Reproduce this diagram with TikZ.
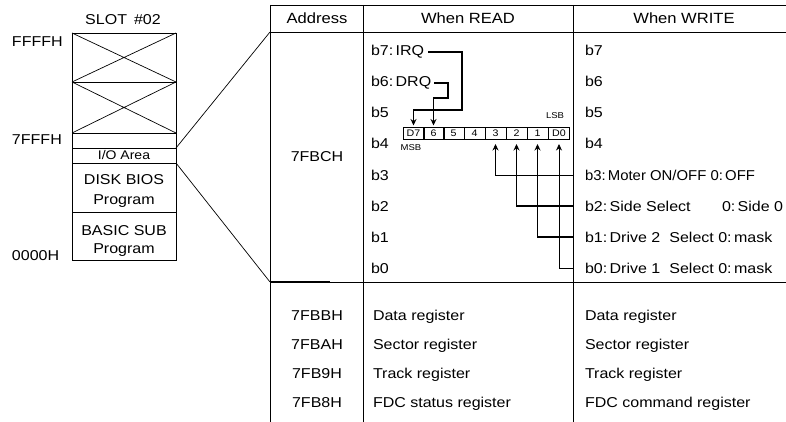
\documentclass[tikz,border=0pt]{standalone}
\usepackage{fontspec}
\usepackage{graphicx}
\setmainfont[FakeStretch=1.12]{Liberation Sans}
\usetikzlibrary{arrows.meta}
\newcommand\fsz[1]{\fontsize{#1}{#1}\selectfont}
\begin{document}
\begin{tikzpicture}[x=1pt,y=-1pt,
  every node/.style={inner sep=0pt,outer sep=0pt},
  txt/.style={anchor=base west,font=\fsz{14.3}},
  ctr/.style={anchor=base,font=\fsz{14.3}},
  hdr/.style={anchor=base,font=\fsz{14.8}},
  rule/.style={line width=0.9pt},
  thinl/.style={line width=0.7pt},
  midl/.style={line width=1.1pt},
  bus/.style={line width=1.8pt},
  cell/.style={draw,line width=0.6pt,minimum width=21pt,minimum height=12pt,font=\fsz{9.5}},
  small/.style={anchor=base,font=\fsz{8.5}},
  tip/.style={-{Stealth[length=6.5pt,width=6pt]}},
]
\useasboundingbox (0,0) rectangle (786,422);

% ---------- memory map ----------
\node[ctr] (slot) at (123,25) {SLOT\hspace{7pt}\#02};
\node[txt] (ffff) at (12,47) {FFFFH};
\node[txt] (sfff) at (12,145) {7FFFH};
\node[txt] (zero) at (12,260) {0000H};
\draw[thinl] (72,33) rectangle (176,260);
\draw[thinl] (72,82) -- (176,82);
\draw[thinl] (72,133) -- (176,133);
\draw[thinl] (72,212) -- (176,212);
\draw[thinl] (72,33) -- (176,82) (72,82) -- (176,33);
\draw[thinl] (72,82) -- (176,133) (72,133) -- (176,82);
\node[draw,thinl,minimum width=104pt,minimum height=15pt,font=\fsz{12.5}] (io) at (124,155.5) {I/O Area};
\node[ctr] (bios1) at (124,185) {DISK BIOS};
\node[ctr] (bios2) at (124,204) {Program};
\node[ctr] (sub1) at (124,235) {BASIC SUB};
\node[ctr] (sub2) at (124,253) {Program};

% ---------- table frame ----------
\coordinate (hBL) at (270,32);
\coordinate (bBL) at (270,282);
\draw[rule] (270,5) -- (786,5);
\draw[rule] (hBL) -- (786,32);
\draw[rule] (bBL) -- (786,282);
\draw[line width=1.6pt] (bBL) -- (330,282);
\draw[rule] (270,5) -- (270,422);
\draw[rule] (363,5) -- (363,422);
\draw[rule] (573,5) -- (573,422);

\draw[thinl] (io.north east) -- (hBL);
\draw[thinl] (io.south east) -- (bBL);

% headers
\node[hdr] (hA) at (317,24) {Address};
\node[hdr] (hR) at (468,24) {When READ};
\node[hdr] (hW) at (684,24) {When WRITE};

% address
\node[ctr] (aC) at (317,162) {7FBCH};

% READ column
\node[txt] (r7) at (371,56) {b7:\,IRQ};
\node[txt] (r6) at (371,87) {b6:\,DRQ};
\node[txt] (r5) at (371,118) {b5};
\node[txt] (r4) at (371,149) {b4};
\node[txt] (r3) at (371,180) {b3};
\node[txt] (r2) at (371,211) {b2};
\node[txt] (r1) at (371,242) {b1};
\node[txt] (r0) at (371,273) {b0};

% register cells
\foreach \n/\x/\t in {7/413.5/D7,6/433.5/6,5/453.5/5,4/474.5/4,3/495.5/3,2/516.5/2,1/537.5/1,0/559/D0}
  \node[cell] (c\n) at (\x,133) {\t};
\node[small] (msb) at (411,150) {MSB};
\node[small] (lsb) at (555,119) {LSB};

% IRQ / DRQ
\coordinate (irqA) at (462,110);
\coordinate (drqA) at (448,98);
\draw[bus,tip,shorten >=1.5pt] ([xshift=4pt]r7.east) -| (irqA) -| (c7);
\draw[bus,tip,shorten >=1.5pt] ([xshift=3pt]r6.east) -| (drqA) -| (c6);

% WRITE column
\node[txt] (w7) at (585,56) {b7};
\node[txt] (w6) at (585,87) {b6};
\node[txt] (w5) at (585,118) {b5};
\node[txt] (w4) at (585,149) {b4};
\node[txt] (w3) at (585,180) {\scalebox{0.93}[1]{b3:\,Moter ON/OFF 0:\,OFF}};
\node[txt] (w2) at (585,211) {b2:\,Side Select};
\node[txt] (w2b) at (722,211) {0:\,Side 0};
\node[txt] (w1) at (585,242) {b1:\,Drive 2\hspace{9pt}Select 0:\,mask};
\node[txt] (w0) at (585,273) {b0:\,Drive 1\hspace{9pt}Select 0:\,mask};

% bit arrows
\coordinate (s3) at (573,175);
\coordinate (s2) at (573,206);
\coordinate (s1) at (573,237);
\coordinate (s0) at (573,268);
\draw[thinl,tip,shorten >=5pt] (s3) -| (c3);
\draw[midl,tip,shorten >=5pt] (s2) -| (c2);
\draw[bus,tip,shorten >=5pt] (s1) -| (c1);
\draw[thinl,tip,shorten >=5pt] (s0) -| (c0);

% lower rows
\node[ctr] (aB) at (317,320) {7FBBH};
\node[ctr] (aA) at (317,349) {7FBAH};
\node[ctr] (a9) at (317,378) {7FB9H};
\node[ctr] (a8) at (317,407) {7FB8H};
\node[txt] (rB) at (373,320) {Data register};
\node[txt] (rA) at (373,349) {Sector register};
\node[txt] (r9) at (373,378) {Track register};
\node[txt] (r8) at (373,407) {FDC status register};
\node[txt] (wB) at (585,320) {Data register};
\node[txt] (wA) at (585,349) {Sector register};
\node[txt] (w9) at (585,378) {Track register};
\node[txt] (w8) at (585,407) {FDC command register};
\end{tikzpicture}
\end{document}
